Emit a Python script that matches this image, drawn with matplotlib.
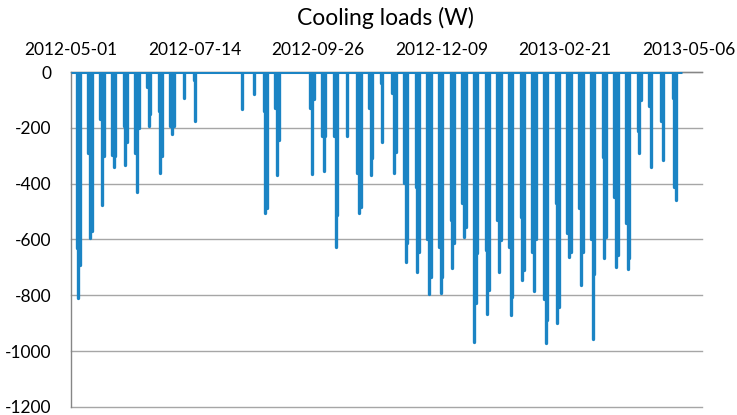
import numpy as np
import pandas as pd
import matplotlib
matplotlib.use("Agg")
import matplotlib.pyplot as plt

# Weekly cooling-load clusters: three occupied days per week (W, negative = cooling)
week_starts = pd.date_range("2012-05-01", periods=52, freq="7D")
load_day1 = [-632, -290, -170, -297, -195, -290, -52, -141, -195, 0, -28,
             0, 0, 0, 0, 0, -141, -129, 0, 0, -129, -231, -231, 0, -363, -129,
             -40, -75, -398, -411, -600, -626, -530, -470, -967, -638, -530, -626,
             -518, -644, -812, -470, -578, -488, -600, -303, -447, -542, -213,
             -123, -177, -93]
load_day2 = [-810, -596, -476, -339, -333, -431, -195, -363, -222, -93, -177,
             0, 0, 0, -133, -78, -506, -369, 0, 0, -365, -353, -626, -231, -506,
             -369, -249, -363, -680, -716, -794, -791, -701, -590, -829, -868,
             -716, -871, -746, -785, -971, -898, -662, -764, -955, -668, -698,
             -707, -289, -339, -315, -411]
load_day3 = [-692, -570, -300, -300, -250, -200, -150, -300, -195, 0, 0,
             0, 0, 0, 0, 0, -487, -243, 0, 0, -95, -230, -512, 0, -482, -309,
             0, -285, -614, -644, -734, -734, -614, -554, -650, -782, -602,
             -806, -710, -600, -889, -842, -644, -644, -722, -590, -656, -668,
             -100, 0, 0, -459]

series_start = "2012-05-01"
series_end = "2013-05-02"
axis_end = "2013-05-14"
tick_dates = pd.date_range("2012-05-01", periods=6, freq="74D")
y_ticks = [0, -200, -400, -600, -800, -1000, -1200]

blue = "#1b84c4"
plt.rcParams["font.family"] = ["Lato", "DejaVu Sans"]

fig = plt.figure(figsize=(7.37, 4.15), dpi=100)
ax = fig.add_axes([0.0963, 0.0193, 0.856, 0.8072])

# Spike days inside each week
day_offsets = [pd.Timedelta(hours=h) for h in (84, 108, 132)]
xs, ys = [], []
for ws, a, b, c in zip(week_starts, load_day1, load_day2, load_day3):
    for off, v in zip(day_offsets, (a, b, c)):
        if v != 0:
            xs.append(ws + off)
            ys.append(v)

ax.plot(pd.to_datetime([series_start, series_end]), [0, 0], color=blue,
        lw=2.2, solid_capstyle="butt", zorder=3)
ax.vlines(xs, ys, 0, color=blue, lw=2.4, capstyle="round", zorder=3)

ax.set_ylim(-1200, 0)
ax.set_xlim(pd.Timestamp(series_start), pd.Timestamp(axis_end))
ax.set_yticks(y_ticks)
ax.set_yticklabels([str(v) for v in y_ticks])
ax.set_xticks(tick_dates)
ax.set_xticklabels([d.strftime("%Y-%m-%d") for d in tick_dates])
ax.xaxis.tick_top()
ax.tick_params(axis="both", length=0, labelsize=12.5, colors="#000000")
ax.tick_params(axis="x", pad=10)
ax.tick_params(axis="y", pad=14)

ax.grid(axis="y", color="#a6a6a6", lw=1.0)
for gl in ax.get_ygridlines():
    gl.set_clip_on(False)
ax.set_axisbelow(True)
for s in ("right", "bottom"):
    ax.spines[s].set_visible(False)
for s in ("left", "top"):
    ax.spines[s].set_color("#868686")
    ax.spines[s].set_linewidth(1.0)

fig.text(0.523, 0.957, "Cooling loads (W)", ha="center", va="center",
         fontsize=16.5)

fig.savefig("out.png", dpi=100)
